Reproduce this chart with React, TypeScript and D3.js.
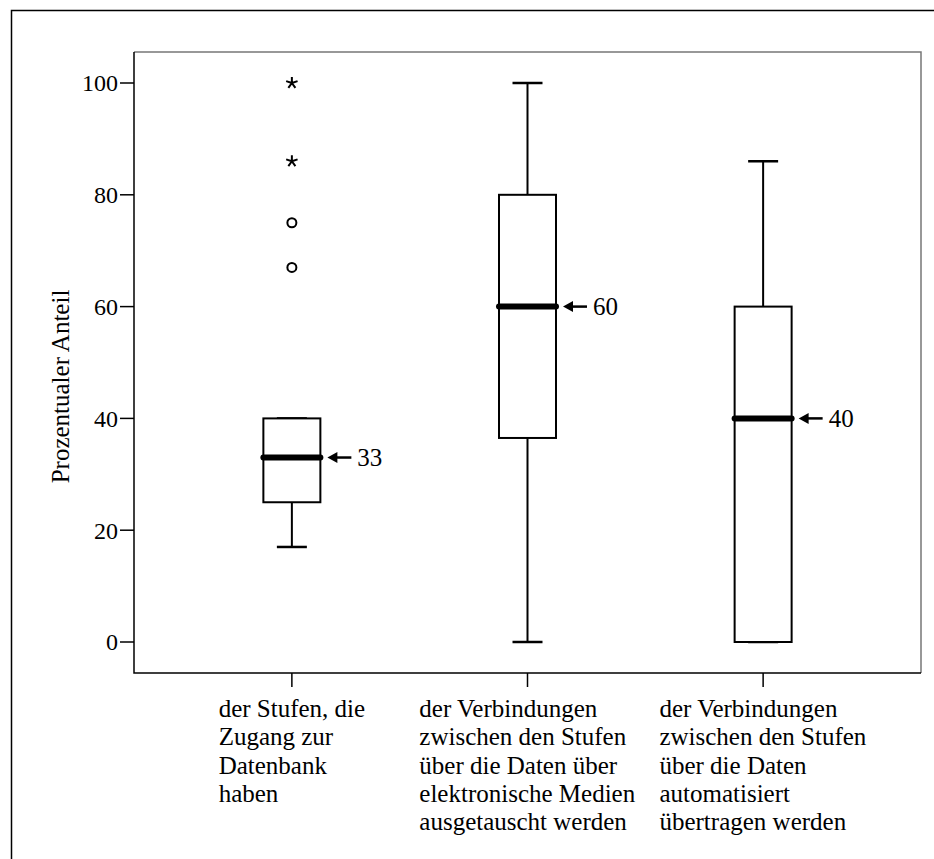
import React, { useRef, useEffect } from 'react';
import * as d3 from 'd3';

// category labels, one array of lines per box
const categories: string[][] = [
  ['der Stufen, die', 'Zugang zur', 'Datenbank', 'haben'],
  ['der Verbindungen', 'zwischen den Stufen', 'über die Daten über', 'elektronische Medien', 'ausgetauscht werden'],
  ['der Verbindungen', 'zwischen den Stufen', 'über die Daten', 'automatisiert', 'übertragen werden'],
];

const whiskerLow = [17, 0, 0];
const q1 = [25, 36.5, 0];
const median = [33, 60, 40];
const q3 = [40, 80, 60];
const whiskerHigh = [40, 100, 86];
const outliers = [[67, 75], [], []];
const extremes = [[86, 100], [], []];

const yTicks = [0, 20, 40, 60, 80, 100];
const yLabel = 'Prozentualer Anteil';

const W = 934;
const H = 859;

function BoxPlot() {
  const ref = useRef<SVGSVGElement>(null);

  useEffect(() => {
    const svg = d3.select(ref.current);
    svg.selectAll('*').remove();

    const left = 134, right = 921, top = 52, bottom = 673;
    const font = 'Liberation Serif, Times New Roman, serif';

    const x = d3.scalePoint<number>()
      .domain(categories.map((_, i) => i))
      .range([left, right])
      .padding(0.67);
    const y = d3.scaleLinear().domain([0, 100]).range([642, 83]);

    // outer frame
    svg.append('path')
      .attr('d', `M11.5,${H}V10.5H${W}`)
      .attr('fill', 'none').attr('stroke', '#000').attr('stroke-width', 1.5);

    // plot frame
    svg.append('path')
      .attr('d', `M${left},${top}H${right}V${bottom}`)
      .attr('fill', 'none').attr('stroke', '#777').attr('stroke-width', 1.5);
    svg.append('path')
      .attr('d', `M${left},${top}V${bottom}H${right}`)
      .attr('fill', 'none').attr('stroke', '#000').attr('stroke-width', 1.5);

    // y axis
    const yAxis = svg.append('g');
    yTicks.forEach(t => {
      yAxis.append('line')
        .attr('x1', left - 14).attr('x2', left)
        .attr('y1', y(t)).attr('y2', y(t))
        .attr('stroke', '#000').attr('stroke-width', 1.5);
      yAxis.append('text')
        .attr('x', left - 16).attr('y', y(t)).attr('dy', '0.35em')
        .attr('text-anchor', 'end')
        .attr('font-family', font).attr('font-size', 24)
        .text(t);
    });

    svg.append('text')
      .attr('transform', `translate(60,${(top + bottom) / 2 + 24}) rotate(-90)`)
      .attr('text-anchor', 'middle').attr('dy', '0.35em')
      .attr('font-family', font).attr('font-size', 25)
      .text(yLabel);

    // x ticks + labels
    categories.forEach((lines, i) => {
      const cx = x(i)!;
      svg.append('line')
        .attr('x1', cx).attr('x2', cx).attr('y1', bottom).attr('y2', bottom + 14)
        .attr('stroke', '#000').attr('stroke-width', 1.5);
      const t = svg.append('text')
        .attr('font-family', font).attr('font-size', 25);
      lines.forEach((l, j) => {
        t.append('tspan').attr('x', 0).attr('y', 717 + j * 28.3).text(l);
      });
      const bw = (t.node() as SVGTextElement).getBBox().width;
      t.attr('transform', `translate(${cx - bw / 2},0)`);
    });

    // boxes
    const half = 28.5, capHalf = 15;
    categories.forEach((_, i) => {
      const cx = x(i)!;
      const g = svg.append('g').attr('stroke', '#000').attr('fill', 'none');
      g.append('line').attr('x1', cx).attr('x2', cx)
        .attr('y1', y(whiskerLow[i])).attr('y2', y(q1[i])).attr('stroke-width', 2);
      g.append('line').attr('x1', cx).attr('x2', cx)
        .attr('y1', y(q3[i])).attr('y2', y(whiskerHigh[i])).attr('stroke-width', 2);
      [whiskerLow[i], whiskerHigh[i]].forEach(v => {
        g.append('line').attr('x1', cx - capHalf).attr('x2', cx + capHalf)
          .attr('y1', y(v)).attr('y2', y(v)).attr('stroke-width', 2.5);
      });
      g.append('rect')
        .attr('x', cx - half).attr('width', half * 2)
        .attr('y', y(q3[i])).attr('height', y(q1[i]) - y(q3[i]))
        .attr('fill', '#fff').attr('stroke-width', 2);
      g.append('line').attr('x1', cx - half).attr('x2', cx + half)
        .attr('y1', y(median[i])).attr('y2', y(median[i]))
        .attr('stroke-width', 6).attr('stroke-linecap', 'round');

      // median annotation
      const ax = cx + half + 7, ay = y(median[i]);
      svg.append('path')
        .attr('d', `M${ax},${ay}l10,-5.5v11z`).attr('fill', '#000');
      svg.append('line').attr('x1', ax + 8).attr('x2', ax + 24)
        .attr('y1', ay).attr('y2', ay).attr('stroke', '#000').attr('stroke-width', 2.5);
      svg.append('text')
        .attr('x', ax + 30).attr('y', ay).attr('dy', '0.35em')
        .attr('font-family', font).attr('font-size', 25)
        .text(median[i]);

      outliers[i].forEach(v => {
        svg.append('circle').attr('cx', cx).attr('cy', y(v)).attr('r', 4.5)
          .attr('fill', 'none').attr('stroke', '#000').attr('stroke-width', 2);
      });
      extremes[i].forEach(v => {
        const arms = d3.range(5).map(k => {
          const a = -Math.PI / 2 + (k * 2 * Math.PI) / 5;
          return `M${cx},${y(v)}l${6 * Math.cos(a)},${6 * Math.sin(a)}`;
        }).join('');
        svg.append('path').attr('d', arms)
          .attr('stroke', '#000').attr('stroke-width', 2).attr('fill', 'none');
      });
    });
  }, []);

  return <svg ref={ref} width={W} height={H} style={{ position: 'absolute', left: 0, top: 0, background: '#fff' }} />;
}

export default function App() {
  return <BoxPlot />;
}
